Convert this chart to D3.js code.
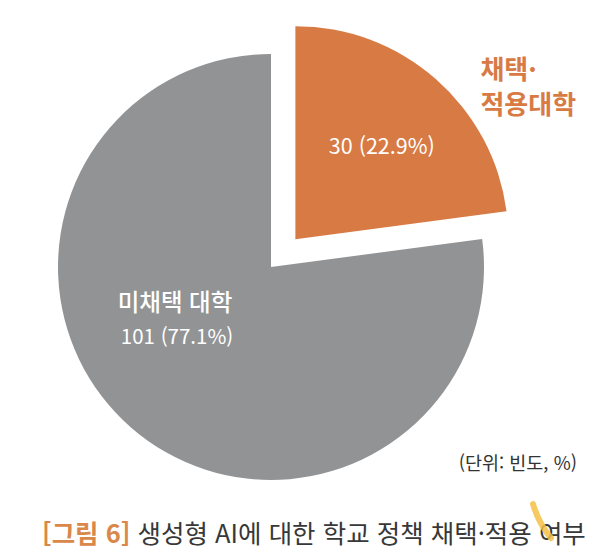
<!DOCTYPE html>
<html lang="ko">
<head>
<meta charset="UTF-8">
<title>생성형 AI에 대한 학교 정책 채택·적용 여부</title>
<script src="https://cdn.jsdelivr.net/npm/d3@7"></script>
<style>
  body { margin: 0; background: #fff; }
  text { font-family: "Noto Sans CJK KR", "Noto Sans", sans-serif; }
</style>
</head>
<body>
<div id="chart"></div>
<script>
// data
var categories = ["채택·적용대학", "미채택 대학"];
var counts = [30, 101];
var percents = [22.9, 77.1];
var colors = ["#d87a44", "#929395"];

var width = 615, height = 557;
var cx = 271, cy = 267, radius = 213;
var explode = 37;

var svg = d3.select("#chart").append("svg")
    .attr("width", width)
    .attr("height", height);

var pie = d3.pie().sort(null).value(function (d) { return d.value; });
var arc = d3.arc().innerRadius(0).outerRadius(radius);
var labelArc = d3.arc().innerRadius(radius * 0.58).outerRadius(radius * 0.58);

var slices = pie(categories.map(function (c, i) {
    return { name: c, value: counts[i], pct: percents[i], color: colors[i] };
}));

function offset(d) {
    if (d.index !== 0) return [0, 0];
    var a = (d.startAngle + d.endAngle) / 2;
    return [Math.sin(a) * explode, -Math.cos(a) * explode];
}

var g = svg.append("g")
    .attr("transform", "translate(" + cx + "," + cy + ")");

var sg = g.selectAll("g.slice")
    .data(slices)
    .enter().append("g")
    .attr("class", "slice")
    .attr("transform", function (d) { var o = offset(d); return "translate(" + o[0] + "," + o[1] + ")"; });

sg.append("path")
    .attr("d", arc)
    .attr("fill", function (d) { return d.data.color; });

// value label inside the adopted slice
var s0 = slices[0];
var c0 = labelArc.centroid(s0);
sg.filter(function (d) { return d.index === 0; })
    .append("text")
    .attr("x", c0[0] + 5)
    .attr("y", c0[1] + 8)
    .attr("text-anchor", "middle")
    .attr("fill", "#fff")
    .attr("font-size", 21.5)
    .text(s0.data.value + " (" + s0.data.pct.toFixed(1) + "%)");

// outside label for the adopted slice
var outer = sg.filter(function (d) { return d.index === 0; })
    .append("text")
    .attr("fill", "#d87a44")
    .attr("font-size", 26)
    .attr("font-weight", "bold");
outer.append("tspan").attr("x", 185).attr("y", -160).text("채택·");
outer.append("tspan").attr("x", 185).attr("y", -125).text("적용대학");

// label for the grey slice
var s1 = slices[1];
var gl = g.append("text")
    .attr("text-anchor", "middle")
    .attr("fill", "#fff");
gl.append("tspan").attr("x", -96).attr("y", 44)
    .attr("font-size", 23.5).attr("font-weight", 500)
    .text(s1.data.name);
gl.append("tspan").attr("x", -94).attr("y", 77)
    .attr("font-size", 20.5)
    .text(s1.data.value + " (" + s1.data.pct.toFixed(1) + "%)");

// unit note
svg.append("text")
    .attr("x", 577)
    .attr("y", 470)
    .attr("text-anchor", "end")
    .attr("font-size", 18.5)
    .attr("fill", "#333")
    .text("(단위: 빈도, %)");

// caption
var cap = svg.append("text")
    .attr("x", 42)
    .attr("y", 543)
    .attr("font-size", 25.5)
    .attr("fill", "#383838");
cap.append("tspan")
    .attr("fill", "#d9884a")
    .attr("font-weight", "bold")
    .text("[그림 6]");
cap.append("tspan")
    .text(" 생성형 AI에 대한 학교 정책 채택·적용 여부");

// highlighter stroke over the caption
svg.append("path")
    .attr("d", "M533,504 Q539,524 551,538")
    .attr("fill", "none")
    .attr("stroke", "#f5bf45")
    .attr("stroke-width", 6)
    .attr("stroke-linecap", "round")
    .attr("opacity", 0.85);
</script>
</body>
</html>
